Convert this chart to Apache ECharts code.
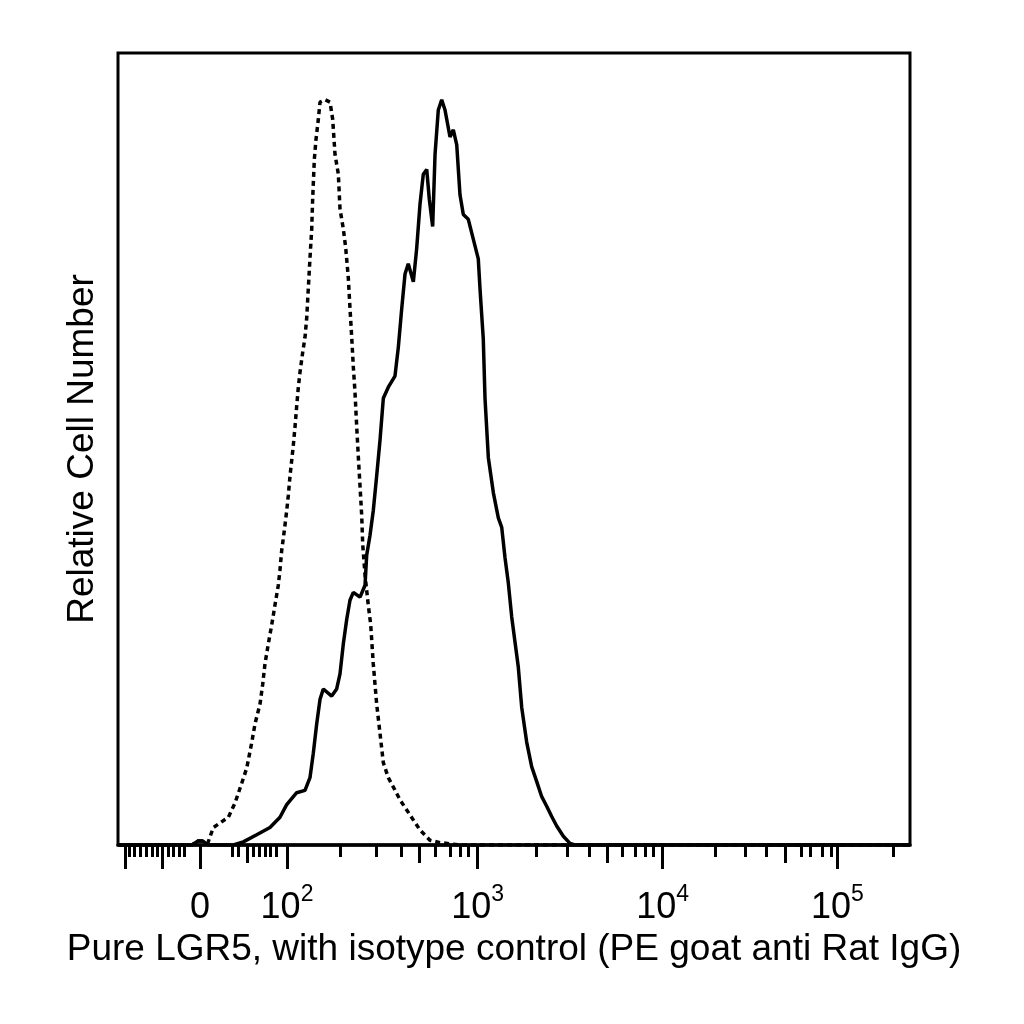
<!DOCTYPE html>
<html>
<head>
<meta charset="utf-8">
<script src="https://cdn.jsdelivr.net/npm/echarts@6/dist/echarts.min.js"></script>
<style>
  html, body { margin: 0; padding: 0; background: #fff; }
  #main { width: 1024px; height: 1024px; }
</style>
</head>
<body>
<div id="main"></div>
<script>
// x values are display channels (0-1000 across the biexponential axis), y is relative count (0-100)
var isotypeX = [0, 93.4, 101.0, 107.3, 113.6, 120.3, 139.3, 147.7, 156.2, 162.5, 168.8, 173.0, 179.3, 182.7, 185.6,
  189.8, 194.1, 198.2, 202.4, 204.5, 206.7, 210.0, 213.0, 215.0, 217.2, 221.3, 223.5, 225.6, 227.7, 229.8,
  233.2, 236.1, 238.3, 240.3, 242.4, 244.6, 245.8, 247.9, 250.0, 252.9, 255.1, 261.4, 267.7, 271.1, 274.0,
  278.2, 280.3, 284.5, 287.5, 290.8, 292.9, 295.1, 297.1, 299.2, 301.4, 303.4, 305.6, 307.7, 309.0, 311.9,
  316.0, 319.1, 322.3, 326.6, 330.8, 335.0, 341.3, 348.8, 356.1, 368.7, 381.3, 393.9, 406.6, 431.8, 1000];
var isotypeY = [0, 0, 0.5, 0.5, 0.3, 2.2, 3.5, 5.3, 7.8, 9.7, 12.9, 15.3, 17.8, 20.3, 22.9,
  25.4, 27.8, 30.3, 32.8, 34.7, 37.2, 39.7, 42.2, 44.1, 46.6, 50.4, 52.8, 55.4, 57.8, 59.7,
  62.2, 64.1, 66.6, 70.3, 74.1, 77.8, 81.6, 86.6, 89.1, 91.6, 93.8, 94.1, 93.8, 91.6, 87.2,
  84.7, 80.3, 77.8, 75.4, 71.6, 67.8, 64.1, 60.4, 57.2, 52.8, 49.1, 45.3, 41.6, 37.9, 34.1,
  30.3, 27.8, 22.9, 17.8, 14.1, 10.4, 8.5, 7.1, 5.7, 3.8, 1.9, 0.6, 0.3, 0, 0];

var lgr5X = [0, 93.4, 101.0, 107.3, 113.6, 145.6, 158.2, 175.1, 191.9, 204.5, 213.0, 225.6, 236.1, 242.4, 246.6,
  250.9, 255.1, 259.2, 269.8, 276.1, 280.3, 284.5, 288.8, 292.9, 297.1, 305.6, 311.9, 314.0, 318.2, 322.3,
  326.6, 330.8, 335.0, 341.3, 349.7, 353.9, 358.2, 362.4, 366.5, 372.9, 377.1, 381.3, 385.5, 389.8, 393.1,
  397.3, 400.3, 404.4, 408.7, 412.9, 419.2, 423.4, 427.7, 431.8, 436.0, 442.3, 448.6, 454.9, 457.1, 461.2,
  463.4, 467.6, 473.9, 480.2, 484.5, 488.6, 492.8, 497.1, 501.3, 505.4, 509.7, 516.0, 522.3, 528.7, 535.0,
  541.3, 547.6, 553.9, 562.3, 570.7, 577.0, 1000];
var lgr5Y = [0, 0, 0.5, 0.5, 0, 0, 0.4, 1.3, 2.2, 3.5, 5.1, 6.6, 6.9, 8.5, 11.6,
  15.3, 18.4, 19.7, 18.8, 19.7, 21.6, 25.4, 28.5, 30.9, 31.9, 31.3, 32.8, 36.6, 39.1, 42.2,
  46.6, 51.1, 56.4, 57.8, 59.2, 62.8, 67.7, 72.1, 73.4, 71.1, 75.3, 80.9, 84.7, 85.3, 81.5,
  78.1, 87.2, 92.8, 94.1, 92.8, 89.4, 90.3, 88.4, 82.1, 79.6, 79.0, 76.5, 74.0, 70.2, 63.9,
  56.4, 48.9, 44.5, 41.3, 40.1, 36.3, 33.1, 28.8, 25.6, 22.5, 17.4, 13.0, 9.9, 8.0, 6.1,
  4.9, 3.6, 2.4, 1.1, 0.2, 0, 0];

// tick channels of the biexponential axis
var majorTicks = [8.8, 55.6, 103.5, 213.4, 454.2, 687.8, 908.2];
var midTicks = [162.9, 380.1, 617.8, 843.1];
var minorTicks = [13.9, 20.2, 27.8, 35.4, 42.9, 49.2, 63.1, 69.4, 77.0, 83.3,
  143.9, 151.5, 170.5, 178.0, 185.6, 191.9, 199.5,
  280.9, 326.6, 357.3, 401.1, 419.2, 431.8, 442.3,
  528.7, 567.8, 594.7, 637.2, 652.8, 665.4, 675.9,
  753.8, 791.7, 819.1, 862.4, 873.7, 889.8, 900.3, 978.9];
var labelTicks = [103.5, 213.4, 454.2, 687.8, 908.2];
var labelBase = ['0', '10', '10', '10', '10'];
var labelExp = ['', '2', '3', '4', '5'];

var FONT = '"Liberation Sans", Arial, sans-serif';

function zip(xs, ys) {
  var out = [];
  for (var i = 0; i < xs.length; i++) out.push([xs[i], ys[i]]);
  return out;
}

function tickAxis(values, len) {
  return {
    type: 'value', min: 0, max: 1000, position: 'bottom',
    axisLine: { show: false },
    axisLabel: { show: false },
    splitLine: { show: false },
    axisTick: { show: true, customValues: values, length: len, lineStyle: { color: '#000', width: 3 } }
  };
}

var chart = echarts.init(document.getElementById('main'));
chart.setOption({
  animation: false,
  backgroundColor: '#fff',
  grid: { left: 118, right: 114, top: 53, bottom: 179, show: true, borderColor: '#000', borderWidth: 3, backgroundColor: 'transparent' },
  xAxis: [
    {
      type: 'value', min: 0, max: 1000, position: 'bottom',
      name: 'Pure LGR5, with isotype control (PE goat anti Rat IgG)',
      nameLocation: 'middle', nameGap: 82,
      nameTextStyle: { fontSize: 37, fontFamily: FONT, color: '#000' },
      axisLine: { lineStyle: { color: '#000', width: 3.5 } },
      splitLine: { show: false },
      axisTick: { customValues: majorTicks, length: 24, lineStyle: { color: '#000', width: 3 } },
      axisLabel: {
        customValues: labelTicks,
        margin: 38,
        formatter: function (v) {
          for (var i = 0; i < labelTicks.length; i++) {
            if (Math.abs(labelTicks[i] - v) < 0.01) {
              return labelExp[i] ? '{b|' + labelBase[i] + '}{s|' + labelExp[i] + '}' : '{b|' + labelBase[i] + '}';
            }
          }
          return '';
        },
        rich: {
          b: { fontSize: 36, fontFamily: FONT, color: '#000', lineHeight: 50 },
          s: { fontSize: 23, fontFamily: FONT, color: '#000', lineHeight: 22, verticalAlign: 'top' }
        }
      }
    },
    tickAxis(midTicks, 18),
    tickAxis(minorTicks, 12)
  ],
  yAxis: {
    type: 'value', min: 0, max: 100,
    name: 'Relative Cell Number', nameLocation: 'middle', nameGap: 17,
    nameTextStyle: { fontSize: 37, fontFamily: FONT, color: '#000' },
    axisLine: { show: false }, axisTick: { show: false }, axisLabel: { show: false },
    splitLine: { show: false }
  },
  series: [
    {
      name: 'isotype', type: 'line', xAxisIndex: 0, data: zip(isotypeX, isotypeY),
      showSymbol: false, silent: true,
      lineStyle: { color: '#000', width: 3.5, type: [5, 4] }
    },
    {
      name: 'LGR5', type: 'line', xAxisIndex: 0, data: zip(lgr5X, lgr5Y),
      showSymbol: false, silent: true,
      lineStyle: { color: '#000', width: 3.5 }
    }
  ]
});
</script>
</body>
</html>
